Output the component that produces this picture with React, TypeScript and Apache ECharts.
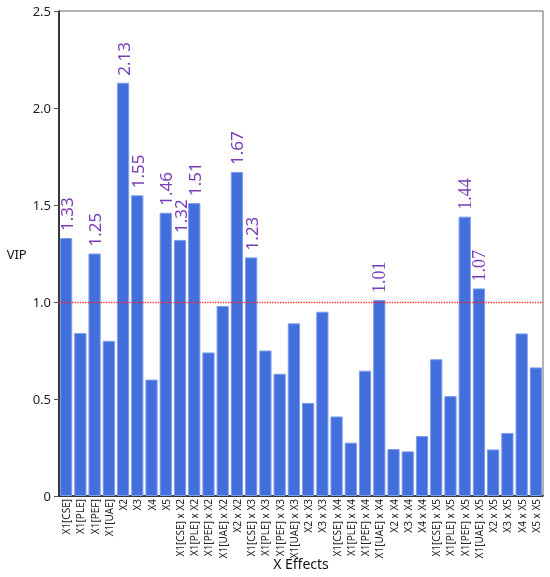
import React, { useEffect, useRef } from "react";
import * as echarts from "echarts";

const categories = [
  "X1[CSE]", "X1[PLE]", "X1[PEF]", "X1[UAE]", "X2", "X3", "X4", "X5",
  "X1[CSE] x X2", "X1[PLE] x X2", "X1[PEF] x X2", "X1[UAE] x X2", "X2 x X2",
  "X1[CSE] x X3", "X1[PLE] x X3", "X1[PEF] x X3", "X1[UAE] x X3", "X2 x X3", "X3 x X3",
  "X1[CSE] x X4", "X1[PLE] x X4", "X1[PEF] x X4", "X1[UAE] x X4", "X2 x X4", "X3 x X4", "X4 x X4",
  "X1[CSE] x X5", "X1[PLE] x X5", "X1[PEF] x X5", "X1[UAE] x X5", "X2 x X5", "X3 x X5", "X4 x X5", "X5 x X5",
];

const vipValues = [
  1.33, 0.84, 1.25, 0.8, 2.13, 1.55, 0.6, 1.46,
  1.32, 1.51, 0.74, 0.98, 1.67,
  1.23, 0.75, 0.63, 0.89, 0.48, 0.95,
  0.41, 0.275, 0.646, 1.01, 0.242, 0.23, 0.309,
  0.705, 0.515, 1.44, 1.07, 0.24, 0.325, 0.838, 0.663,
];

const yTickLabels = ["0", "0.5", "1.0", "1.5", "2.0", "2.5"];
const threshold = 1.0;
// labels drawn in a serif face in the reference
const serifLabelCategories = ["X1[UAE] x X4", "X1[PEF] x X5", "X1[UAE] x X5"];

const SANS = "Noto Sans, Open Sans, sans-serif";
const SERIF = "Liberation Serif, DejaVu Serif, serif";

export default function App() {
  const ref = useRef<HTMLDivElement>(null);
  useEffect(() => {
    if (!ref.current) return;
    const chart = echarts.init(ref.current, null, { renderer: "svg" });
    const data = vipValues.map((v) => ({
      value: v,
      label: { show: v >= threshold },
    }));
    chart.setOption({
      animation: false,
      grid: {
        left: 59,
        right: 7,
        top: 11,
        bottom: 81,
        show: true,
        borderColor: "#666",
        borderWidth: 1,
        backgroundColor: "transparent",
        outerBoundsMode: "none",
        containLabel: false,
      },
      xAxis: {
        type: "category",
        data: categories,
        name: "X Effects",
        nameLocation: "middle",
        nameGap: 60,
        nameMoveOverlap: false,
        nameTextStyle: { fontFamily: SANS, fontSize: 14, color: "#111", verticalAlign: "top" },
        axisLine: { show: true, lineStyle: { color: "#111", width: 1.5 } },
        axisTick: { show: false },
        axisLabel: {
          rotate: 90,
          interval: 0,
          fontFamily: SANS,
          fontSize: 10,
          color: "#222",
          margin: 3,
        },
      },
      yAxis: {
        type: "value",
        min: 0,
        max: 2.5,
        interval: 0.5,
        name: "VIP",
        nameLocation: "middle",
        nameRotate: 0,
        nameGap: 29,
        nameTextStyle: { fontFamily: SANS, fontSize: 13, color: "#111" },
        splitLine: { show: false },
        axisLine: { show: true, lineStyle: { color: "#111", width: 1.5 } },
        axisTick: { show: true, length: 5, lineStyle: { color: "#555" } },
        axisLabel: {
          fontFamily: SANS,
          fontSize: 13,
          color: "#222",
          margin: 8,
          formatter: (v: number) => yTickLabels[Math.round(v / 0.5)] ?? String(v),
        },
      },
      series: [
        {
          type: "bar",
          data,
          barCategoryGap: "14%",
          itemStyle: { color: "#426FDB", borderColor: "#7D9DEB", borderWidth: 1 },
          label: {
            position: "top",
            rotate: 90,
            align: "left",
            verticalAlign: "middle",
            distance: 7,
            fontSize: 17,
            fontFamily: SANS,
            color: "#7A3DB8",
            formatter: (p: any) => {
              const txt = Number(p.value).toFixed(2);
              return serifLabelCategories.includes(p.name) ? `{serif|${txt}}` : txt;
            },
            rich: {
              serif: { fontFamily: SERIF, fontSize: 18, color: "#7A3DB8" },
            },
          },
          markLine: {
            silent: true,
            symbol: ["none", "none"],
            label: { show: false },
            lineStyle: { color: "#FF2020", type: "dotted", width: 1.3 },
            data: [{ yAxis: threshold }],
          },
        },
      ],
    });
    return () => chart.dispose();
  }, []);
  return (
    <div
      ref={ref}
      style={{ position: "fixed", left: 0, top: 0, width: 550, height: 577 }}
    />
  );
}
